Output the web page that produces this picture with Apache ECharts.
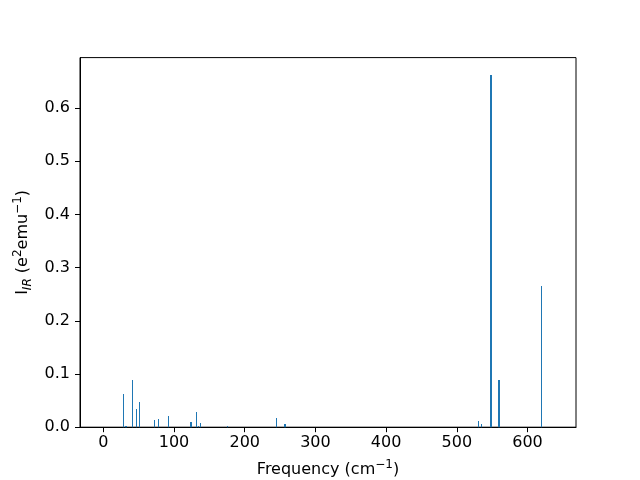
<!DOCTYPE html>
<html>
<head>
<meta charset="utf-8">
<script src="https://cdn.jsdelivr.net/npm/echarts@6/dist/echarts.min.js"></script>
<style>html,body{margin:0;padding:0;background:#fff;}#c{width:640px;height:480px;}</style>
</head>
<body>
<div id="c"></div>
<script>
// Frequencies (cm^-1) and IR intensities
const frequencies = [28.6, 32, 41.3, 47, 51.2, 72.4, 78.1, 92.2, 124, 131.8, 134.6, 137.5, 175.7, 245, 257, 530.7, 535, 548.4, 559.7, 619.8];
const intensities = [0.0624, 0.002, 0.0887, 0.034, 0.0474, 0.0135, 0.0154, 0.021, 0.0098, 0.0286, 0.002, 0.008, 0.002, 0.0173, 0.006, 0.0117, 0.006, 0.6616, 0.0887, 0.2654];
const xTicks = [0, 100, 200, 300, 400, 500, 600];
const yTicks = [0, 0.1, 0.2, 0.3, 0.4, 0.5, 0.6];

const BAR_W = 2;
const FONT = 'DejaVu Sans';
const data = frequencies.map((f, i) => [f, intensities[i]]);

const richStyles = {
  a: {color: '#000', fontFamily: FONT, fontSize: 16, verticalAlign: 'middle', lineHeight: 22},
  sup: {color: '#000', fontFamily: FONT, fontSize: 12, verticalAlign: 'top', lineHeight: 12},
  sub: {color: '#000', fontFamily: FONT, fontSize: 12, fontStyle: 'italic', verticalAlign: 'bottom', lineHeight: 12}
};

const chart = echarts.init(document.getElementById('c'), null, {renderer: 'canvas'});
chart.setOption({
  animation: false,
  backgroundColor: '#fff',
  grid: {left: 80, right: 64, top: 57.6, bottom: 52.8, show: true, borderColor: '#000', borderWidth: 1, backgroundColor: 'transparent', containLabel: false, outerBoundsMode: 'none'},
  xAxis: {
    type: 'value', min: -33, max: 668.6,
    splitLine: {show: false},
    axisLine: {show: true, onZero: false, lineStyle: {color: '#000', width: 1}},
    axisTick: {show: true, inside: false, length: 5, lineStyle: {color: '#000'}, customValues: xTicks},
    axisLabel: {color: '#000', fontFamily: FONT, fontSize: 16, margin: 8, customValues: xTicks, formatter: v => String(v)},
    name: '{a|Frequency (cm}{sup|−1}{a|)}',
    nameLocation: 'middle', nameGap: 32,
    nameTextStyle: {color: '#000', fontFamily: FONT, fontSize: 16, rich: richStyles}
  },
  yAxis: {
    type: 'value', min: 0, max: 0.6947,
    splitLine: {show: false},
    axisLine: {show: true, onZero: false, lineStyle: {color: '#000', width: 1}},
    axisTick: {show: true, inside: false, length: 5, lineStyle: {color: '#000'}, customValues: yTicks},
    axisLabel: {color: '#000', fontFamily: FONT, fontSize: 16, margin: 10, customValues: yTicks, formatter: v => v.toFixed(1)},
    name: '{a|I}{sub|IR}{a| (e}{sup|2}{a|emu}{sup|−1}{a|)}',
    nameLocation: 'middle', nameGap: 45, nameRotate: 90,
    nameTextStyle: {color: '#000', fontFamily: FONT, fontSize: 16, rich: richStyles}
  },
  series: [{
    type: 'custom',
    data: data,
    renderItem: function (params, api) {
      const x = api.value(0), y = api.value(1);
      const p0 = api.coord([x, 0]);
      const p1 = api.coord([x, y]);
      const w = api.size([BAR_W, 0])[0];
      let x0 = Math.round(p0[0] - w / 2), x1 = Math.round(p0[0] + w / 2);
      if (x1 <= x0) x1 = x0 + 1;
      const top = Math.round(p1[1]);
      return {
        type: 'rect',
        shape: {x: x0, y: top, width: x1 - x0, height: Math.max(1, p0[1] - top)},
        style: {fill: '#1f77b4'}
      };
    }
  }]
});
</script>
</body>
</html>
